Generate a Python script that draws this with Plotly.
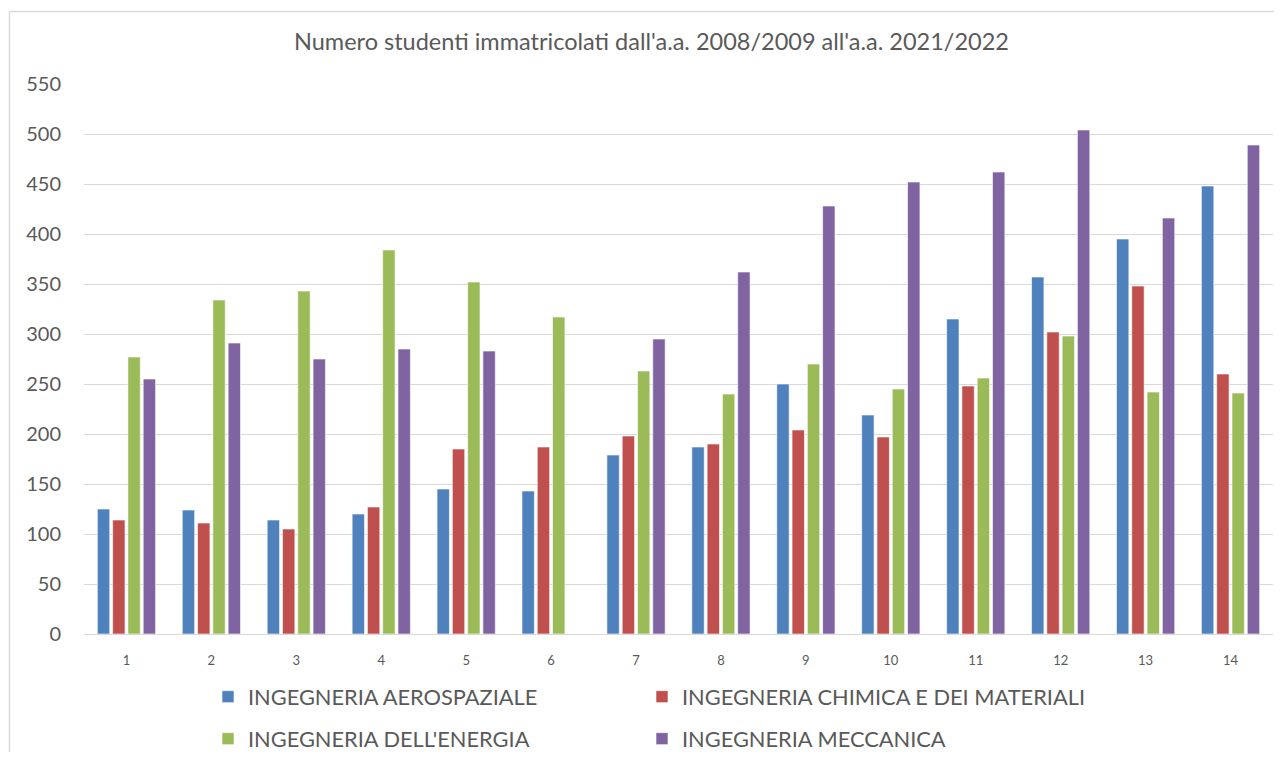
import plotly.graph_objects as go

categories = [str(i) for i in range(1, 15)]
series_names = ["INGEGNERIA AEROSPAZIALE", "INGEGNERIA CHIMICA E DEI MATERIALI",
                "INGEGNERIA DELL'ENERGIA", "INGEGNERIA MECCANICA"]
aerospaziale = [125, 124, 114, 120, 145, 143, 179, 187, 250, 219, 315, 357, 395, 448]
chimica = [114, 111, 105, 127, 185, 187, 198, 190, 204, 197, 248, 302, 348, 260]
energia = [277, 334, 343, 384, 352, 317, 263, 240, 270, 245, 256, 298, 242, 241]
meccanica = [255, 291, 275, 285, 283, None, 295, 362, 428, 452, 462, 504, 416, 489]
y_ticks = list(range(0, 551, 50))

colors = ["#4f81bd", "#c0504d", "#9bbb59", "#8064a2"]
values = [aerospaziale, chimica, energia, meccanica]
legends = ["legend", "legend2", "legend3", "legend4"]

FONT = "Lato"
GREY = "#595959"

# page body has an 8px margin: work in page coordinates and subtract it
OFF = 8
W, H = 1282 - 2 * OFF, 760 - 2 * OFF
L = 84 - OFF
T = 84 - OFF
B = H - (634 - OFF)
R = W - (1273 - OFF)
pw = W - L - R
ph = H - T - B


def px_x(p):
    return (p - OFF - L) / pw


def px_y(p):
    return (H - B - (p - OFF)) / ph


fig = go.Figure()
for name, vals, col, lg in zip(series_names, values, colors, legends):
    fig.add_trace(go.Bar(
        x=categories, y=vals, name=name, showlegend=True,
        marker=dict(color=col, line=dict(color="rgba(255,255,255,0.6)", width=1)),
        legend=lg,
    ))


def leg(xp, yp):
    return dict(
        x=px_x(xp), y=px_y(yp), xanchor="left", yanchor="middle",
        orientation="h", itemwidth=30, visible=True,
        font=dict(family=FONT, size=21.8, color=GREY),
        bgcolor="rgba(0,0,0,0)",
    )


fig.update_layout(
    width=W, height=H, showlegend=True,
    margin=dict(l=L, r=R, t=T, b=B, autoexpand=False),
    paper_bgcolor="white", plot_bgcolor="white",
    barmode="group", bargap=0.28, bargroupgap=0.19,
    title=dict(text="Numero studenti immatricolati dall'a.a. 2008/2009 all'a.a. 2021/2022",
               xref="paper", x=px_x(651.5), xanchor="center",
               y=1 - (42 - OFF) / H, yanchor="middle",
               font=dict(family=FONT, size=23.5, color=GREY)),
    font=dict(family=FONT, color=GREY),
    legend=leg(208, 697),
    legend2=leg(642, 697),
    legend3=leg(208, 739),
    legend4=leg(642, 739),
    xaxis=dict(type="category", tickfont=dict(family=FONT, size=13, color=GREY),
               showgrid=False, showline=True, linecolor="#d9d9d9", linewidth=1,
               ticks="", ticklabelstandoff=14),
    yaxis=dict(range=[0, 550], tickvals=y_ticks, tickfont=dict(family=FONT, size=20, color=GREY),
               showgrid=True, gridcolor="#d9d9d9", gridwidth=1, zeroline=False,
               showline=False, ticks="", ticklabelstandoff=22),
    shapes=[
        dict(type="line", xref="paper", yref="paper",
             x0=px_x(9.5), x1=px_x(1290), y0=px_y(11.5), y1=px_y(11.5),
             line=dict(color="#d9d9d9", width=1.5), layer="below"),
        dict(type="line", xref="paper", yref="paper",
             x0=px_x(9.5), x1=px_x(9.5), y0=px_y(11.5), y1=px_y(770),
             line=dict(color="#d9d9d9", width=1.5), layer="below"),
    ],
)

fig.write_html("out.html")
